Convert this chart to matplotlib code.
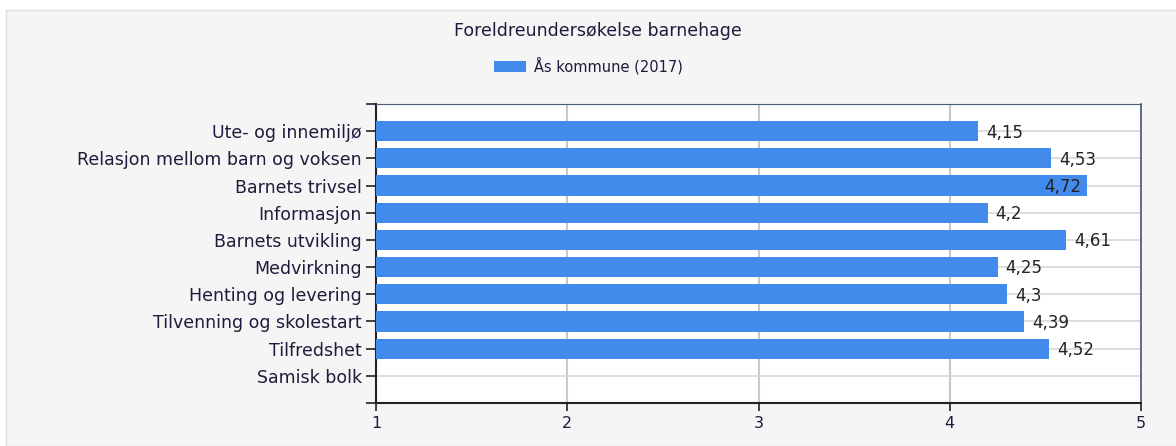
import matplotlib
matplotlib.use('Agg')
import matplotlib.pyplot as plt
from matplotlib.patches import Rectangle

# data
categories = ['Ute- og innemiljø', 'Relasjon mellom barn og voksen', 'Barnets trivsel',
              'Informasjon', 'Barnets utvikling', 'Medvirkning', 'Henting og levering',
              'Tilvenning og skolestart', 'Tilfredshet', 'Samisk bolk']
values = [4.15, 4.53, 4.72, 4.2, 4.61, 4.25, 4.3, 4.39, 4.52, None]
series_name = 'Ås kommune (2017)'
xticks = [1, 2, 3, 4, 5]

W, H, DPI = 1176, 446, 100
bar_color = '#428bed'
text_color = '#1c1c3c'

fig = plt.figure(figsize=(W / DPI, H / DPI), dpi=DPI)
fig.patch.set_facecolor('white')
# grey panel behind the chart
fig.add_artist(Rectangle((6 / W, 0), 1.0, 1 - 10 / H, transform=fig.transFigure,
                         facecolor='#f5f5f5', edgecolor='#dddddd', lw=1, zorder=0))

ax = fig.add_axes([376 / W, 1 - 403 / H, (1141 - 376) / W, (403 - 104) / H])
ax.set_facecolor('white')

ypos = list(range(len(categories)))
for y, v in zip(ypos, values):
    if v is None:
        continue
    ax.barh(y, v - 1, left=1, height=0.74, color=bar_color, zorder=3)
    label = f'{v:g}'.replace('.', ',')
    if v > 4.65:
        ax.text(v - 0.03, y + 0.05, label, ha='right', va='center', fontsize=12,
                color='#222222', zorder=4)
    else:
        ax.text(v + 0.04, y + 0.05, label, ha='left', va='center', fontsize=12,
                color='#222222', zorder=4)

ax.set_xlim(1, 5)
ax.set_ylim(len(categories), -1)
ax.set_xticks(xticks)
ax.set_xticklabels([str(t) for t in xticks], color=text_color, fontsize=11.5)
ax.set_yticks(ypos)
ax.set_yticklabels(categories, color=text_color, fontsize=12.5)
ax.set_yticks([-1, len(categories)], minor=True)
ax.tick_params(axis='y', which='both', length=7, width=1.2, color='#222222', pad=3)
ax.tick_params(axis='x', length=6, width=1.2, color='#222222', pad=3)

ax.grid(axis='x', color='#c8c8c8', lw=1.5, zorder=1)
ax.grid(axis='y', which='major', color='#d8d8d8', lw=1.2, zorder=1)

ax.spines['left'].set_color('#222222')
ax.spines['left'].set_linewidth(1.5)
ax.spines['bottom'].set_color('#222222')
ax.spines['bottom'].set_linewidth(1.5)
ax.spines['top'].set_color('#4a5a7a')
ax.spines['right'].set_color('#4a5a7a')
ax.spines['right'].set_linewidth(1.2)

fig.text(598 / W, 1 - 31 / H, 'Foreldreundersøkelse barnehage', ha='center', va='center',
         fontsize=12.5, color=text_color)
fig.add_artist(Rectangle((494 / W, 1 - 72 / H), 32 / W, 11 / H, transform=fig.transFigure,
                         facecolor=bar_color, edgecolor='none'))
fig.text(534 / W, 1 - 66 / H, series_name, ha='left', va='center', fontsize=10.5,
         color=text_color)

fig.savefig('out.png', dpi=DPI)
